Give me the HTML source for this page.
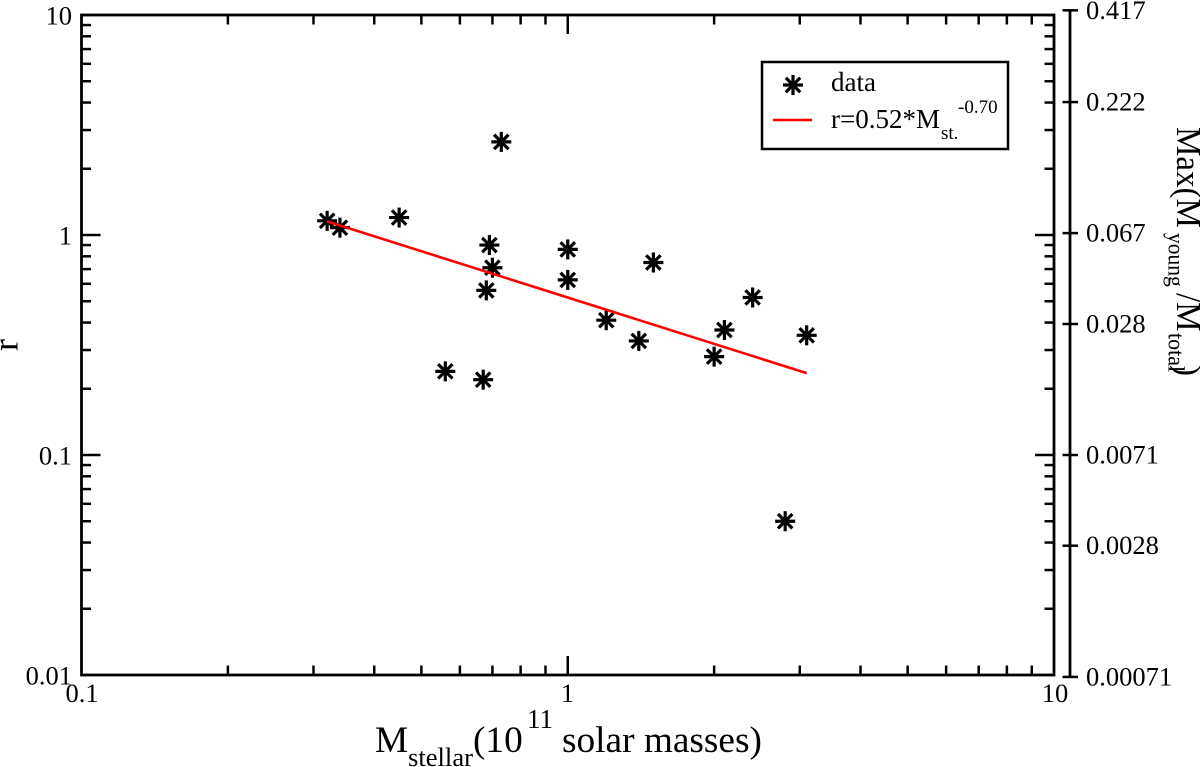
<!DOCTYPE html>
<html lang="en">
<head>
<meta charset="utf-8">
<title>Stellar mass vs r</title>
<style>
html,body{margin:0;padding:0;background:#fff;}
svg{display:block;}
text{font-family:"Liberation Serif",serif;fill:#000;}
</style>
</head>
<body>
<svg id="chart" width="1200" height="767" viewBox="0 0 1200 767" xmlns="http://www.w3.org/2000/svg">
  <rect width="1200" height="767" fill="#fff"/>
  <g id="marks"></g>
  <g id="axes"></g>

  <text x="375" y="752" font-size="37.3">M<tspan font-size="26.6" x="408" dy="14">stellar</tspan><tspan x="473" dy="-14">(10</tspan><tspan font-size="27" x="527" dy="-24">11</tspan><tspan dy="24" x="562">solar masses)</tspan></text>
  <text transform="translate(17.5,345) rotate(-90)" text-anchor="middle" font-size="36">r</text>
  <g transform="translate(1177,127) rotate(90) scale(1,1.06)">
    <text font-size="33" x="0" y="0">Max(M</text>
    <text font-size="21.5" x="106" y="8">young</text>
    <text font-size="33" x="166" y="0">/M</text>
    <text font-size="22" x="206" y="8">total</text>
    <text font-size="33" x="238" y="0">)</text>
  </g>

  <g id="legend">
    <rect x="762" y="62" width="246" height="87" fill="#fff" stroke="#000" stroke-width="2.5"/>
    <g id="legend-marker"></g>
    <line x1="773" y1="120" x2="812" y2="120" stroke="#f00" stroke-width="2.5"/>
    <text x="831" y="91" font-size="27">data</text>
    <text x="831" y="128" font-size="27">r=0.52*M</text>
    <text x="941" y="139" font-size="19">st.</text>
    <text x="958" y="113" font-size="19">-0.70</text>
  </g>
</svg>
<script>
const massValues = [0.32,0.34,0.45,0.73,0.69,0.70,0.68,0.56,0.67,1.0,1.0,1.2,1.4,1.5,2.0,2.1,2.4,3.1,2.8];
const rValues = [1.16,1.08,1.2,2.65,0.9,0.71,0.56,0.24,0.22,0.86,0.625,0.41,0.33,0.75,0.28,0.37,0.52,0.35,0.05];
const fitMass = [0.32,3.1];
const fitR = [1.153,0.2356];
const xTickLabels = ["0.1","1","10"];
const xTickValues = [0.1,1,10];
const yTickLabels = ["0.01","0.1","1","10"];
const yTickValues = [0.01,0.1,1,10];
const minorMultipliers = [2,3,4,5,6,7,8,9];
const rightTickLabels = ["0.417","0.222","0.067","0.028","0.0071","0.0028","0.00071"];
const rightTickR = [10.5,4.02,1.02,0.394,0.1,0.0387,0.0098];

const NS = "http://www.w3.org/2000/svg";
const L = 81.5, R = 1054, T = 15, B = 675;
const xScale = v => L + (Math.log10(v) + 1) / 2 * (R - L);
const yScale = v => B - (Math.log10(v) + 2) / 3 * (B - T);
const axes = document.getElementById("axes");
const marks = document.getElementById("marks");

function make(tag, attrs, parent) {
  const el = document.createElementNS(NS, tag);
  for (const k in attrs) el.setAttribute(k, attrs[k]);
  parent.appendChild(el);
  return el;
}
function tickLine(x1, y1, x2, y2, parent) {
  const el = make("line", {x1, y1, x2, y2, stroke: "#000", "stroke-width": 2.5}, parent);
  
  
}
function tickText(str, x, y, anchor) {
  const el = make("text", {x, y, "font-size": 26.5, "text-anchor": anchor}, axes);
  el.textContent = str;
  
  
}
function asterisk(cx, cy, parent) {
  const g = make("g", {stroke: "#000", "stroke-width": 3.2}, parent);
  
  
  const r = 10, d = 7.2;
  make("line", {x1: cx - r, y1: cy, x2: cx + r, y2: cy}, g);
  make("line", {x1: cx, y1: cy - r, x2: cx, y2: cy + r}, g);
  make("line", {x1: cx - d, y1: cy - d, x2: cx + d, y2: cy + d}, g);
  make("line", {x1: cx - d, y1: cy + d, x2: cx + d, y2: cy - d}, g);
}

/* frame */
const frame = make("rect", {x: L, y: T, width: R - L, height: B - T, fill: "none", stroke: "#000", "stroke-width": 2.8}, axes);



/* x ticks */
xTickValues.forEach((v, i) => {
  const x = xScale(v);
  if (i > 0 && i < xTickValues.length - 1) {
    tickLine(x, B, x, B - 19, axes);
    tickLine(x, T, x, T + 19, axes);
  }
  if (i < xTickValues.length - 1) {
    minorMultipliers.forEach(m => {
      const xm = xScale(v * m);
      tickLine(xm, B, xm, B - 9.5, axes);
      tickLine(xm, T, xm, T + 9.5, axes);
    });
  }
});
tickText(xTickLabels[0], 82, 702, "middle");
tickText(xTickLabels[1], 567.5, 702, "middle");
tickText(xTickLabels[2], 1055, 702, "middle");

/* y ticks */
yTickValues.forEach((v, i) => {
  const y = yScale(v);
  if (i > 0 && i < yTickValues.length - 1) {
    tickLine(L, y, L + 19, y, axes);
    tickLine(R, y, R - 19, y, axes);
  }
  if (i < yTickValues.length - 1) {
    minorMultipliers.forEach(m => {
      const ym = yScale(v * m);
      tickLine(L, ym, L + 9.5, ym, axes);
      tickLine(R, ym, R - 9.5, ym, axes);
    });
  }
  tickText(yTickLabels[i], 72, y + 9.5, "end");
});

/* right companion axis */
const rightAxis = make("line", {x1: 1070, y1: yScale(rightTickR[0]), x2: 1070, y2: yScale(rightTickR[rightTickR.length - 1]), stroke: "#000", "stroke-width": 2.8}, axes);


rightTickR.forEach((v, i) => {
  const y = yScale(v);
  tickLine(1062.5, y, 1078, y, axes);
  tickText(rightTickLabels[i], 1086, y + 8.5, "start");
});

/* series */
const pts = massValues.map((m, i) => [xScale(m), yScale(rValues[i])]);
pts.forEach(p => asterisk(p[0], p[1], marks));
const fit = make("polyline", {
  points: fitMass.map((m, i) => xScale(m) + "," + yScale(fitR[i])).join(" "),
  fill: "none", stroke: "#f00", "stroke-width": 2.6
}, marks);



asterisk(793, 85, document.getElementById("legend-marker"));
</script>
</body>
</html>
